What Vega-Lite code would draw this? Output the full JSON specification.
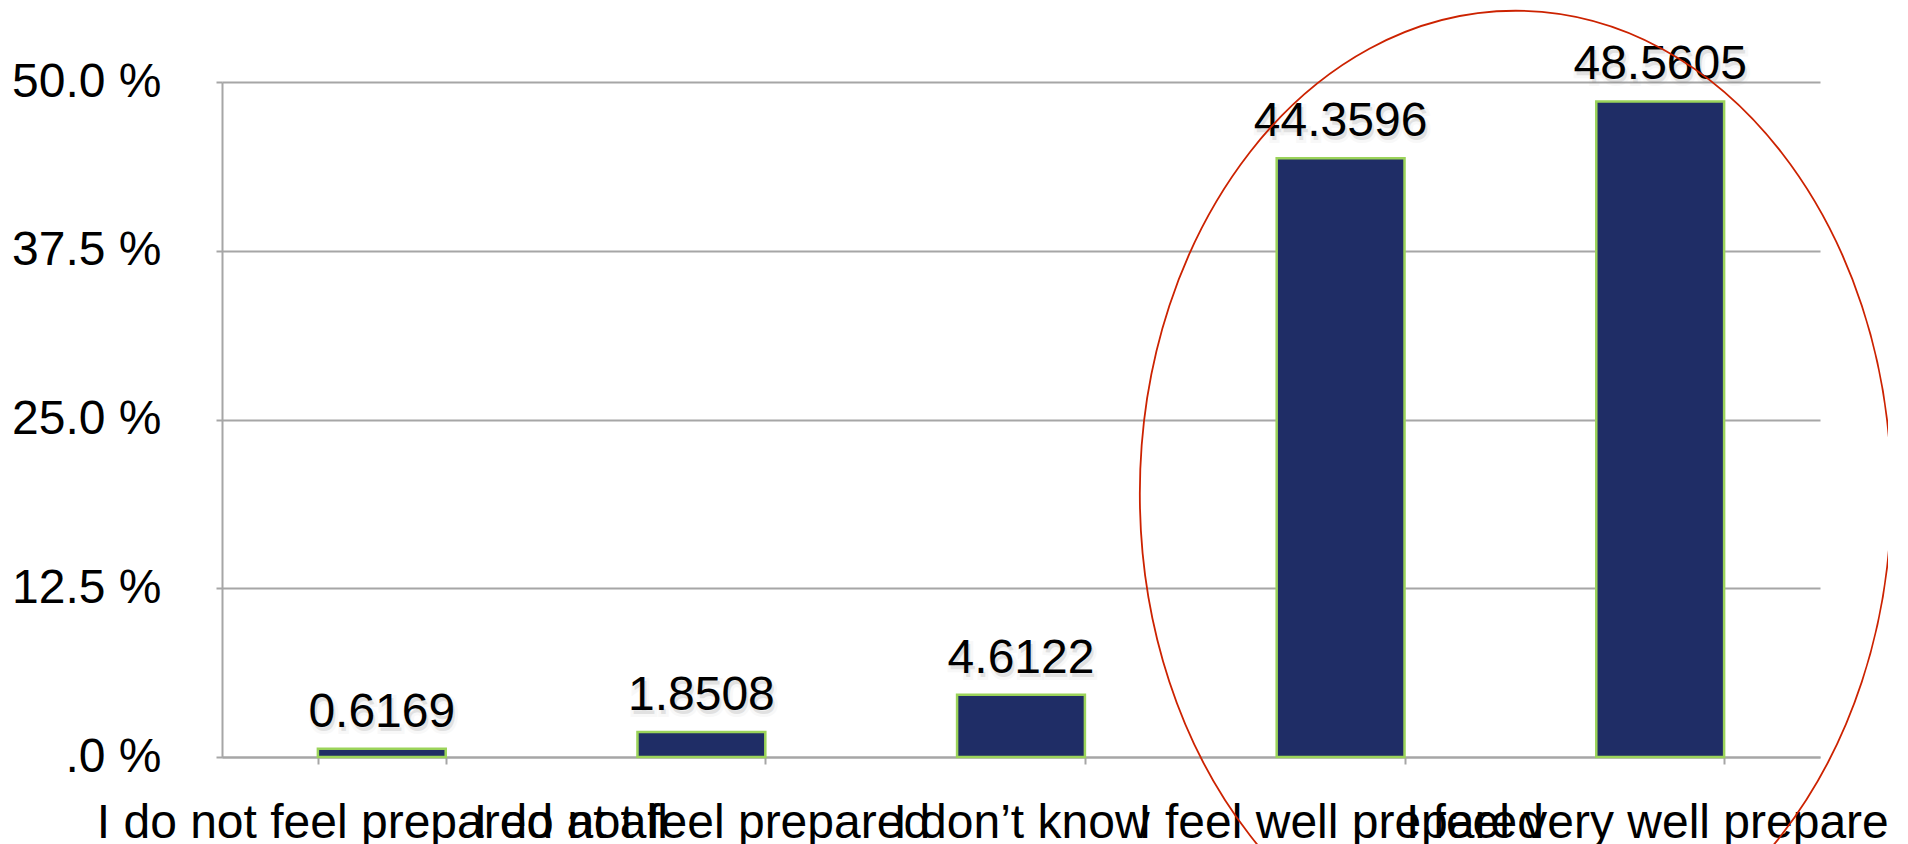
{
  "$schema": "https://vega.github.io/schema/vega-lite/v6.json",
  "autosize": {"type": "none"},
  "padding": {"left": 222, "top": 82, "right": 68, "bottom": 87},
  "width": 1598,
  "height": 675,
  "background": "white",
  "config": {"view": {"stroke": null}, "font": "Liberation Sans"},
  "datasets": {
    "bars": [
      {"cat": "I do not feel prepared at all", "pct": 0.6169},
      {"cat": "I do not feel prepared", "pct": 1.8508},
      {"cat": "I don’t know", "pct": 4.6122},
      {"cat": "I feel well prepared", "pct": 44.3596},
      {"cat": "I feel very well prepared", "pct": 48.5605}
    ],
    "ring": [{"cat": "I feel well prepared", "v": 19.5}]
  },
  "layer": [
    {
      "data": {"name": "bars"},
      "mark": {"type": "bar", "fill": "#1F2D66", "stroke": "#9BD35A", "strokeWidth": 2.5},
      "encoding": {
        "x": {
          "field": "cat", "type": "nominal", "sort": null,
          "scale": {
            "domain": ["I do not feel prepared at all", "I do not feel prepared", "I don’t know", "I feel well prepared", "I feel very well prepared"],
            "paddingInner": 0.6, "paddingOuter": 0.3
          },
          "axis": {
            "title": null, "labelFontSize": 48, "labelColor": "black", "labelFont": "Liberation Sans",
            "labelAngle": 0, "labelOverlap": false, "labelLimit": 0, "labelBaseline": "alphabetic",
            "labelPadding": 73, "tickBand": "extent", "tickSize": 7, "tickColor": "#A6A6A6", "tickWidth": 2,
            "domainColor": "#A6A6A6", "domainWidth": 2, "grid": false, "labelFlush": false, "labelBound": false
          }
        },
        "y": {
          "field": "pct", "type": "quantitative",
          "scale": {"domain": [0, 50], "nice": false},
          "axis": {
            "title": null, "values": [0, 12.5, 25, 37.5, 50],
            "labelExpr": "datum.value == 0 ? '.0 %' : format(datum.value, '.1f') + ' %'",
            "labelFontSize": 48, "labelColor": "black", "labelFont": "Liberation Sans", "labelPadding": 55,
            "tickSize": 6, "tickColor": "#A6A6A6", "tickWidth": 2,
            "domainColor": "#A6A6A6", "domainWidth": 2,
            "grid": true, "gridColor": "#A6A6A6", "gridWidth": 2,
            "labelFlush": false, "labelBound": false, "labelOverlap": false
          }
        }
      }
    },
    {
      "data": {"name": "bars"},
      "mark": {"type": "text", "fontSize": 48, "font": "Liberation Sans", "baseline": "alphabetic", "dy": -18, "dx": 2, "fill": "#888888", "opacity": 0.25, "stroke": "#999999", "strokeWidth": 6, "strokeOpacity": 0.25},
      "encoding": {
        "x": {"field": "cat", "type": "nominal", "sort": null},
        "y": {"field": "pct", "type": "quantitative"},
        "text": {"field": "pct", "type": "quantitative", "format": ".4f"}
      }
    },
    {
      "data": {"name": "bars"},
      "mark": {"type": "text", "fontSize": 48, "font": "Liberation Sans", "baseline": "alphabetic", "dy": -22, "fill": "black"},
      "encoding": {
        "x": {"field": "cat", "type": "nominal", "sort": null},
        "y": {"field": "pct", "type": "quantitative"},
        "text": {"field": "pct", "type": "quantitative", "format": ".4f"}
      }
    },
    {
      "data": {"name": "ring"},
      "mark": {"type": "point", "shape": "M-0.778,0A0.778,1,0,1,1,0.778,0A0.778,1,0,1,1,-0.778,0Z", "size": 933156, "filled": false, "stroke": "#CC2200", "strokeWidth": 1.8, "opacity": 1, "xOffset": 175},
      "encoding": {
        "x": {"field": "cat", "type": "nominal", "sort": null},
        "y": {"field": "v", "type": "quantitative"}
      }
    }
  ]
}
